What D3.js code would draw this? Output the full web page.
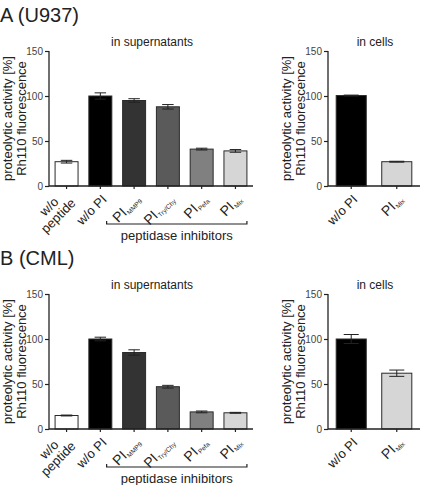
<!DOCTYPE html>
<html>
<head>
<meta charset="utf-8">
<script src="https://cdn.jsdelivr.net/npm/d3@7"></script>
</head>
<body style="margin:0">
<div id="chart"></div>
<script>
var W = 424, H = 485,
    FONT = '"Liberation Sans", Arial, sans-serif';

// categories and their label parts (main text / subscript)
var supKeys   = ['noPeptide', 'noPI', 'MMP9', 'TryChy', 'Pefa', 'Mix'],
    supMain   = [['w/o', 'peptide'], ['w/o PI'], ['PI'], ['PI'], ['PI'], ['PI']],
    supSub    = [null, null, 'MMP9', 'Try/Chy', 'Pefa', 'Mix'],
    supFill   = ['#ffffff', '#000000', '#333333', '#5a5a5a', '#808080', '#d6d6d6'],
    cellKeys  = ['noPI', 'Mix'],
    cellMain  = [['w/o PI'], ['PI']],
    cellSub   = [null, 'Mix'],
    cellFill  = ['#000000', '#d6d6d6'];

// values (mean, error)
var u937SupMean  = [27, 100, 95, 88, 41, 39],
    u937SupErr   = [1.5, 3.5, 2, 2.5, 1, 1.5],
    u937CellMean = [100.5, 27],
    u937CellErr  = [0.5, 0.5],
    cmlSupMean   = [15, 100, 85, 47, 19, 18],
    cmlSupErr    = [0.5, 2, 3, 1.5, 1, 0.5],
    cmlCellMean  = [100, 62],
    cmlCellErr   = [5, 3.5],
    yTicks       = [0, 50, 100, 150];

var svg = d3.select('#chart').append('svg')
    .attr('width', W)
    .attr('height', H)
    .style('font-family', FONT);
var defs = svg.append('defs'),
    pathId = 0,
    C = Math.SQRT1_2;

function r1(v) { return Math.round(v * 10) / 10; }

// a baseline running up-right at 45deg: u along the text, v across it
function diagPath(ax, ay, u0, u1, v) {
    var id = 'lp' + (pathId++);
    function p(u) { return r1(ax + (u + v) * C) + ',' + r1(ay + (v - u) * C); }
    defs.append('path').attr('id', id).attr('d', 'M' + p(u0) + 'L' + p(u1));
    return id;
}

function panel(opt) {
    var x = d3.scaleBand().domain(opt.keys).range([opt.x0, opt.x1])
            .paddingInner(opt.pi).paddingOuter(opt.po),
        y = d3.scaleLinear().domain([0, 150]).range([opt.y0, opt.yTop]),
        bw = x.bandwidth(),
        data = opt.keys.map(function(k, i) {
            return { key: k, mean: opt.mean[i], err: opt.err[i], fill: opt.fill[i],
                     main: opt.main[i], sub: opt.sub[i] };
        });

    // bars
    svg.append('g').selectAll('rect').data(data).enter().append('rect')
        .attr('x', function(d) { return x(d.key); })
        .attr('width', bw)
        .attr('y', function(d) { return y(d.mean); })
        .attr('height', function(d) { return y(0) - y(d.mean); })
        .style('fill', function(d) { return d.fill; })
        .style('stroke', '#2a2a2a')
        .style('stroke-width', 1);

    // error bars
    var eb = svg.append('g').selectAll('g').data(data).enter().append('g')
        .style('stroke', '#222')
        .style('stroke-width', 1);
    eb.append('line')
        .attr('x1', function(d) { return x(d.key) + bw / 2; })
        .attr('x2', function(d) { return x(d.key) + bw / 2; })
        .attr('y1', function(d) { return y(d.mean - d.err); })
        .attr('y2', function(d) { return y(d.mean + d.err); });
    [1, -1].forEach(function(sign) {
        eb.append('line')
            .attr('x1', function(d) { return x(d.key) + bw / 4; })
            .attr('x2', function(d) { return x(d.key) + bw * 3 / 4; })
            .attr('y1', function(d) { return y(d.mean + sign * d.err); })
            .attr('y2', function(d) { return y(d.mean + sign * d.err); });
    });

    // y axis
    var yAxis = svg.append('g')
        .attr('transform', 'translate(' + opt.x0 + ',0)')
        .call(d3.axisLeft(y).tickValues(yTicks).tickSize(4).tickPadding(2));
    yAxis.select('.domain').attr('d', 'M0,' + opt.yTop + 'V' + opt.y0)
        .style('stroke', '#222').style('stroke-width', 1.3);
    yAxis.selectAll('.tick line').style('stroke', '#222').style('stroke-width', 1.2);
    yAxis.selectAll('.tick text').style('font-size', '10px').style('fill', '#444')
        .style('font-family', FONT);

    // x axis
    var xAxis = svg.append('g')
        .attr('transform', 'translate(0,' + opt.y0 + ')')
        .call(d3.axisBottom(x).tickSize(3).tickFormat(''));
    xAxis.select('.domain').attr('d', 'M' + opt.x0 + ',0H' + opt.x1)
        .style('stroke', '#222').style('stroke-width', 1.3);
    xAxis.selectAll('.tick line').style('stroke', '#222').style('stroke-width', 1.2);

    // slanted x labels, set along diagonal paths
    data.forEach(function(d) {
        var ax = x(d.key) + bw / 2 + 4,
            ay = opt.y0 + 11;
        if (d.main.length > 1) {
            d.main.forEach(function(line, j) {
                var id = diagPath(ax, ay, -80, 36, (j - 0.5) * 13 + 2.5);
                svg.append('text')
                    .attr('text-anchor', 'middle')
                    .style('font-size', '13px').style('fill', '#222')
                    .append('textPath')
                    .attr('href', '#' + id)
                    .attr('startOffset', '50%')
                    .text(line);
            });
        } else {
            var id = diagPath(ax, ay, -90, 0, 4.5),
                tp = svg.append('text')
                    .attr('text-anchor', 'end')
                    .style('fill', '#222')
                    .append('textPath')
                    .attr('href', '#' + id)
                    .attr('startOffset', '100%');
            tp.append('tspan').style('font-size', d.sub ? '14px' : '13px').text(d.main[0]);
            if (d.sub) {
                tp.append('tspan').attr('dx', 0.5).attr('dy', 2)
                    .style('font-size', '6.5px').text(d.sub);
            }
        }
    });

    // title
    svg.append('text')
        .attr('x', opt.titleX)
        .attr('y', opt.yTop - 5)
        .attr('text-anchor', 'middle')
        .style('font-size', '12px').style('fill', '#222')
        .text(opt.title);

    // y axis label
    var ym = (opt.y0 + opt.yTop) / 2;
    ['proteolytic activity [%]', 'Rh110 fluorescence'].forEach(function(line, j) {
        svg.append('text')
            .attr('transform', 'translate(' + (opt.x0 - 37 + j * 14) + ',' + ym + ') rotate(-90)')
            .attr('text-anchor', 'middle')
            .style('font-size', '13px').style('fill', '#222')
            .text(line);
    });

    // bracket under the inhibitor labels
    if (opt.bracket) {
        var bx0 = x('MMP9') - 16,
            bx1 = x('Mix') + bw,
            by = opt.y0 + 38;
        svg.append('path')
            .attr('d', 'M' + bx0 + ',' + (by - 3) + 'V' + by + 'H' + bx1 + 'V' + (by - 3))
            .style('fill', 'none').style('stroke', '#222').style('stroke-width', 1.2);
        svg.append('text')
            .attr('x', (bx0 + bx1) / 2)
            .attr('y', by + 16)
            .attr('text-anchor', 'middle')
            .style('font-size', '13px').style('fill', '#222')
            .text('peptidase inhibitors');
    }
}

function block(label, top, sm, se, cm, ce) {
    svg.append('text')
        .attr('x', 0).attr('y', top + 22)
        .style('font-size', '20px').style('fill', '#222')
        .text(label);
    panel({ keys: supKeys, main: supMain, sub: supSub, fill: supFill,
            mean: sm, err: se, x0: 49, x1: 253, pi: 0.32, po: 0.18,
            y0: top + 186, yTop: top + 51, title: 'in supernatants', titleX: 152, bracket: true });
    panel({ keys: cellKeys, main: cellMain, sub: cellSub, fill: cellFill,
            mean: cm, err: ce, x0: 328, x1: 420, pi: 0.34, po: 0.18,
            y0: top + 186, yTop: top + 51, title: 'in cells', titleX: 375, bracket: false });
}

block('A (U937)', 0, u937SupMean, u937SupErr, u937CellMean, u937CellErr);
block('B (CML)', 243, cmlSupMean, cmlSupErr, cmlCellMean, cmlCellErr);
</script>
</body>
</html>
